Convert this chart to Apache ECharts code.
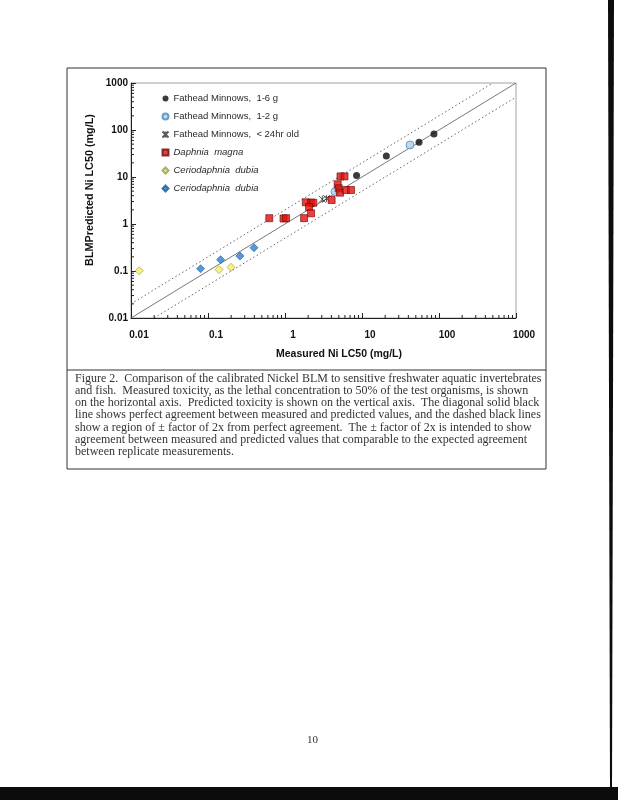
<!DOCTYPE html>
<html>
<head>
<meta charset="utf-8">
<script src="https://cdn.jsdelivr.net/npm/echarts@6/dist/echarts.min.js"></script>
<style>
html,body{margin:0;padding:0;background:#fff;}
#c{width:618px;height:800px;}
</style>
</head>
<body>
<div id="c"></div>
<script>
// ---- data (measured, predicted) in mg/L ----
const fathead16 = [[8.5,10.7],[20.7,28],[55,55],[86,82]];
const fathead12 = [[4.46,4.87],[42,48]];
const fathead24 = [[3.05,3.36],[3.46,3.49]];
const daphnia = [[0.625,1.33],[0.957,1.31],[1.03,1.33],[1.77,1.33],[1.86,2.9],[2.18,2.84],[2.33,2.84],[2.05,2.30],[2.18,1.69],[4.03,3.24],[5.26,10.3],[5.93,10.3],[4.83,7.0],[4.98,5.75],[5.18,4.64],[6.2,5.29],[7.2,5.29]];
const cerioYellow = [[0.0128,0.101],[0.139,0.107],[0.199,0.12]];
const cerioBlue = [[0.08,0.112],[0.146,0.174],[0.26,0.208],[0.396,0.313]];
const oneToOne = [[0.01,0.01],[1000,1000]];
const upper2x = [[0.01,0.02],[500,1000]];
const lower2x = [[0.02,0.01],[1000,500]];
const xTickLabels = ['0.01','0.1','1','10','100','1000'];
const yTickLabels = ['0.01','0.1','1','10','100','1000'];
const decades = [0.01,0.1,1,10,100];
const minorMult = [2,3,4,5,6,7,8,9];
const captionLines = [
 'Figure 2.  Comparison of the calibrated Nickel BLM to sensitive freshwater aquatic invertebrates',
 'and fish.  Measured toxicity, as the lethal concentration to 50% of the test organisms, is shown',
 'on the horizontal axis.  Predicted toxicity is shown on the vertical axis.  The diagonal solid black',
 'line shows perfect agreement between measured and predicted values, and the dashed black lines',
 'show a region of \u00b1 factor of 2x from perfect agreement.  The \u00b1 factor of 2x is intended to show',
 'agreement between measured and predicted values that comparable to the expected agreement',
 'between replicate measurements.'
];
const legendLabels = {
 'FHM16':['Fathead Minnows,  1-6 g',false],
 'FHM12':['Fathead Minnows,  1-2 g',false],
 'FHM24':['Fathead Minnows,  < 24hr old',false],
 'DM':['Daphnia  magna',true],
 'CDY':['Ceriodaphnia  dubia',true],
 'CDB':['Ceriodaphnia  dubia',true]
};

const minorTicks = [];
decades.forEach(d => minorMult.forEach(m => minorTicks.push(+(m*d).toPrecision(3))));

const SANS = 'Liberation Sans, Arial, sans-serif';
const SERIF = 'Liberation Serif, Times New Roman, serif';
const asterisk = 'path://M0,0L10,10M10,0L0,10M5,0L5,10';

const chart = echarts.init(document.getElementById('c'), null, {renderer:'canvas'});

const captionGraphics = captionLines.map((t,i) => ({
  type:'text', left:75, top:373 + i*12.1,
  style:{text:t, font:'12px '+SERIF, fill:'#333'}
}));

function tickLabel(arr){ return v => arr[Math.round(Math.log10(v))+2]; }

chart.setOption({
  animation:false,
  backgroundColor:'#fff',
  grid:{left:131, top:83, width:385, height:235, show:true, borderColor:'#8a8a8a', borderWidth:0.8, containLabel:false},
  xAxis:{
    type:'log', logBase:10, min:0.01, max:1000,
    axisLine:{show:true, onZero:false, lineStyle:{color:'#222', width:1}},
    axisTick:{show:true, inside:true, length:5, lineStyle:{color:'#222'}},
    splitLine:{show:false},
    axisLabel:{formatter:tickLabel(xTickLabels), margin:12, padding:[0,0,0,16], color:'#111', fontWeight:'bold', fontSize:10, fontFamily:SANS}
  },
  yAxis:{
    type:'log', logBase:10, min:0.01, max:1000,
    axisLine:{show:true, onZero:false, lineStyle:{color:'#222', width:1}},
    axisTick:{show:true, inside:true, length:5, lineStyle:{color:'#222'}},
    splitLine:{show:false},
    axisLabel:{formatter:tickLabel(yTickLabels), margin:3, color:'#111', fontWeight:'bold', fontSize:10, fontFamily:SANS}
  },
  legend:{
    orient:'vertical', left:155, top:88, itemWidth:6, itemHeight:6, itemGap:7,
    selectedMode:false,
    data:['FHM16','FHM12','FHM24','DM','CDY','CDB'],
    formatter: n => legendLabels[n][1] ? '{i|'+legendLabels[n][0]+'}' : legendLabels[n][0],
    textStyle:{fontSize:9.5, fontFamily:SANS, color:'#2a2a2a', lineHeight:11,
      rich:{i:{fontStyle:'italic', fontSize:9.5, fontFamily:SANS, color:'#2a2a2a'}}}
  },
  graphic:[
    {type:'rect', shape:{x:67, y:68, width:479, height:401}, style:{fill:'none', stroke:'#333', lineWidth:1}},
    {type:'line', shape:{x1:67, y1:370, x2:546, y2:370}, style:{stroke:'#333', lineWidth:1}},
    {type:'text', left:276, top:349, style:{text:'Measured Ni LC50 (mg/L)', font:'bold 10.5px '+SANS, fill:'#111'}},
    {type:'text', x:90, y:190, rotation:Math.PI/2, style:{text:'BLMPredicted Ni LC50 (mg/L)', font:'bold 10.8px '+SANS, fill:'#111', align:'center', verticalAlign:'middle'}},
    {type:'text', left:307, top:735, style:{text:'10', font:'11px '+SERIF, fill:'#333'}},
    {type:'rect', shape:{x:0, y:787, width:618, height:13}, style:{fill:'#0c0c0c'}},
    {type:'polygon', shape:{points:[[608,0],[614,0],[612,787],[610,787]]}, style:{fill:'#0c0c0c'}}
  ].concat(captionGraphics),
  series:[
    {type:'line', data:oneToOne, symbol:'none', silent:true, lineStyle:{color:'#555', width:0.8}, z:1},
    {type:'line', data:upper2x, symbol:'none', silent:true, lineStyle:{color:'#555', width:0.9, type:[1.5,2.5]}, z:1},
    {type:'line', data:lower2x, symbol:'none', silent:true, lineStyle:{color:'#555', width:0.9, type:[1.5,2.5]}, z:1},
    {type:'custom', silent:true, clip:false, z:3, data:minorTicks.map(v=>[v,0.01]),
      renderItem:(p,api)=>{const c=api.coord([api.value(0),0.01]);return {type:'line',shape:{x1:c[0],y1:c[1],x2:c[0],y2:c[1]-3},style:{stroke:'#222',lineWidth:1}};}},
    {type:'custom', silent:true, clip:false, z:3, data:minorTicks.map(v=>[0.01,v]),
      renderItem:(p,api)=>{const c=api.coord([0.01,api.value(1)]);return {type:'line',shape:{x1:c[0],y1:c[1],x2:c[0]+3,y2:c[1]},style:{stroke:'#222',lineWidth:1}};}},
    {name:'FHM16', type:'scatter', data:fathead16, symbol:'circle', symbolSize:7, itemStyle:{color:'#0a0a0a'}, z:5},
    {name:'FHM12', type:'scatter', data:fathead12, symbol:'circle', symbolSize:8, itemStyle:{color:'#a9d2ee', borderColor:'#4f86b8', borderWidth:1}, z:5},
    {name:'FHM24', type:'scatter', data:fathead24, symbol:asterisk, symbolSize:7, itemStyle:{color:'none', borderColor:'#333', borderWidth:1}, z:5},
    {name:'DM', type:'scatter', data:daphnia, symbol:'rect', symbolSize:7, itemStyle:{color:'#e3100e', borderColor:'#6a0a0a', borderWidth:0.8}, z:5},
    {name:'CDY', type:'scatter', data:cerioYellow, symbol:'diamond', symbolSize:8, itemStyle:{color:'#f4ef5a', borderColor:'#9a9a50', borderWidth:0.8}, z:5},
    {name:'CDB', type:'scatter', data:cerioBlue, symbol:'diamond', symbolSize:8, itemStyle:{color:'#2b80d4', borderColor:'#1c5a9a', borderWidth:0.8}, z:5}
  ]
});
</script>
</body>
</html>
